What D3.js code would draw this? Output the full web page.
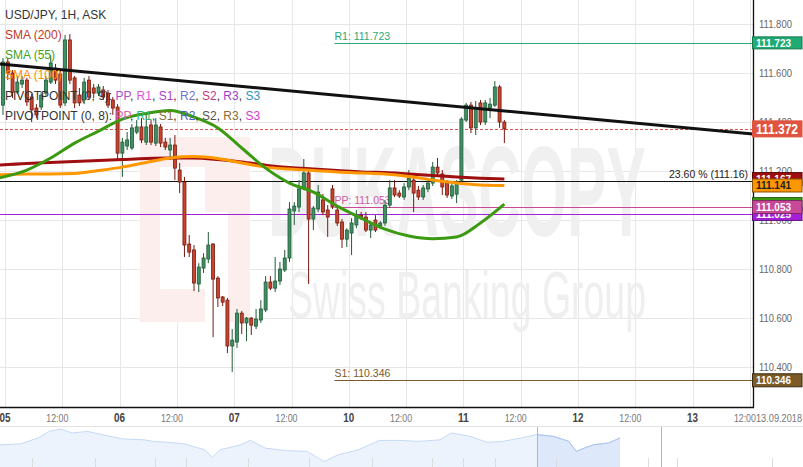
<!DOCTYPE html>
<html><head><meta charset="utf-8">
<script src="https://cdn.jsdelivr.net/npm/d3@7"></script>
<style>body{margin:0;background:#fff;}svg{display:block;font-family:"Liberation Sans",Arial,sans-serif;}</style>
</head><body><svg id="c" width="803" height="467"></svg>
<script>
// ---------- DATA ----------
// hourly candles [open, high, low, close], index 0 = 05 Sep 00:00 (weekend skipped)
const ohlc = [
[111.469,111.661,111.429,111.645],[111.645,111.661,111.571,111.600],[111.600,111.612,111.498,111.522],
[111.522,111.588,111.514,111.563],[111.555,111.588,111.539,111.571],[111.571,111.580,111.465,111.482],
[111.502,111.514,111.400,111.449],[111.457,111.473,111.416,111.429],[111.461,111.522,111.449,111.510],
[111.518,111.588,111.506,111.571],[111.563,111.673,111.555,111.641],[111.620,111.637,111.555,111.571],
[111.596,111.612,111.457,111.469],[111.478,111.755,111.465,111.735],[111.735,111.759,111.555,111.571],
[111.580,111.588,111.457,111.478],[111.510,111.539,111.465,111.478],[111.490,111.580,111.473,111.563],
[111.571,111.588,111.490,111.502],[111.539,111.555,111.498,111.518],[111.518,111.555,111.506,111.543],
[111.531,111.547,111.490,111.502],[111.518,111.531,111.457,111.469],[111.490,111.502,111.429,111.457],
[111.461,111.473,111.245,111.273],[111.273,111.335,111.176,111.318],[111.302,111.359,111.286,111.327],
[111.294,111.392,111.286,111.376],[111.359,111.408,111.351,111.380],[111.380,111.416,111.314,111.327],
[111.318,111.429,111.306,111.380],[111.388,111.408,111.306,111.318],[111.314,111.416,111.302,111.388],
[111.380,111.392,111.298,111.314],[111.318,111.335,111.286,111.298],[111.286,111.335,111.245,111.306],
[111.306,111.347,111.163,111.212],[111.204,111.233,111.110,111.155],[111.155,111.176,110.849,110.898],
[110.902,110.939,110.849,110.869],[110.878,110.898,110.710,110.743],[110.739,110.824,110.706,110.808],
[110.804,110.865,110.784,110.845],[110.841,110.951,110.824,110.898],[110.902,110.906,110.522,110.759],
[110.763,110.771,110.645,110.682],[110.686,110.690,110.649,110.665],[110.673,110.682,110.457,110.486],
[110.486,110.555,110.380,110.510],[110.502,110.637,110.478,110.620],[110.620,110.629,110.535,110.580],
[110.580,110.604,110.506,110.600],[110.600,110.604,110.531,110.571],[110.567,110.637,110.555,110.596],
[110.592,110.673,110.580,110.637],[110.633,110.771,110.624,110.747],[110.747,110.771,110.714,110.722],
[110.722,110.849,110.706,110.751],[110.751,110.829,110.735,110.800],[110.796,110.878,110.788,110.845],
[110.845,111.073,110.829,111.045],[111.037,111.073,110.980,111.057],[111.053,111.163,111.033,111.127],
[111.131,111.249,111.122,111.192],[111.192,111.204,110.739,111.004],[111.004,111.057,110.959,111.049],
[111.045,111.143,111.033,111.114],[111.082,111.106,111.020,111.033],[111.041,111.061,110.931,111.012],
[111.127,111.143,111.045,111.053],[111.041,111.061,110.976,110.988],[110.992,111.004,110.886,110.922],
[110.922,110.967,110.890,110.959],[110.947,111.008,110.857,110.988],[110.980,111.041,110.967,111.020],
[111.020,111.033,111.000,111.008],[111.012,111.033,110.951,110.959],[110.959,110.992,110.927,110.980],
[111.000,111.020,110.951,110.959],[110.976,110.996,110.963,110.988],[110.988,111.082,110.976,111.061],
[111.061,111.163,111.049,111.131],[111.131,111.163,111.094,111.102],[111.110,111.122,111.090,111.098],
[111.094,111.151,111.082,111.135],[111.135,111.204,111.122,111.171],[111.163,111.180,111.033,111.110],
[111.122,111.139,111.082,111.094],[111.094,111.143,111.082,111.131],[111.127,111.171,111.114,111.151],
[111.151,111.237,111.139,111.216],[111.216,111.253,111.180,111.192],[111.188,111.204,111.102,111.135],
[111.151,111.163,111.090,111.102],[111.098,111.151,111.086,111.139],[111.106,111.163,111.069,111.155],
[111.163,111.420,111.155,111.412],[111.408,111.478,111.400,111.469],[111.469,111.482,111.355,111.376],
[111.376,111.486,111.347,111.457],[111.478,111.490,111.388,111.400],[111.400,111.490,111.388,111.478],
[111.457,111.498,111.416,111.473],[111.469,111.567,111.461,111.543],[111.543,111.551,111.376,111.400],
[111.400,111.408,111.314,111.372]
];
// moving averages read at candle indices
const smaIdx = [-1,5,10,15,20,25,30,35,40,45,50,55,60,65,70,75,80,85,90,95,100,105];
const sma200 = [111.224,111.231,111.235,111.239,111.243,111.247,111.251,111.253,111.253,111.247,111.237,111.224,111.214,111.208,111.202,111.196,111.194,111.188,111.182,111.176,111.171,111.167];
const sma100 = [111.184,111.188,111.188,111.190,111.202,111.216,111.235,111.253,111.259,111.251,111.233,111.216,111.208,111.202,111.196,111.192,111.188,111.178,111.163,111.151,111.143,111.141];
const sma55  = [111.171,111.204,111.253,111.314,111.363,111.412,111.435,111.447,111.420,111.376,111.294,111.212,111.151,111.114,111.057,111.008,110.963,110.935,110.924,110.931,110.988,111.065];
// trend line [hour, price]
const trendLine = [[-1.05,111.637],[156.65,111.351]];
// levels
const pivotStartHour = 69;
const R1 = 111.723, S1 = 110.346, PP8 = 111.053, PP9 = 111.025, fib236 = 111.16, lastPrice = 111.372;
// axis ticks
const yTicks = [110.4,110.6,110.8,111.0,111.2,111.4,111.6,111.8];
const yTickLabels = ["110.400","110.600","110.800","111.000","111.200","111.400","111.600","111.800"];
const dayLabels = ["05","06","07","10","11","12","13"];
const halfDayLabel = "12:00";
const dateLabel = "13.09.2018";
// navigator (days relative to last candle, price)
const navDays = [-32.7,-31.6,-30.7,-30.1,-29.5,-28.9,-28.1,-27.3,-26.2,-25.1,-24.6,-23.8,-23.0,-21.9,-21.5,-21.1,-20.0,-19.5,-18.7,-17.6,-16.5,-15.6,-14.9,-13.8,-12.7,-11.6,-10.6,-9.5,-8.9,-7.9,-7.0,-6.2,-5.2,-4.4,-3.5,-2.7,-2.3,-1.9,-1.4,-0.6,0];
const navValues = [111.01,111.06,111.35,111.68,111.8,111.6,111.68,111.52,111.3,111.26,111.18,111.13,111.06,110.76,110.39,110.76,111.01,111.23,110.84,110.72,110.68,110.17,110.5,110.76,111.23,111.23,111.18,111.26,111.6,111.43,111.13,111.18,111.35,111.52,111.43,111.18,110.68,110.84,111.01,111.1,111.35];
const navTickDays = [-31.0,-27.7,-24.5,-22.9,-19.6,-16.4,-13.1,-9.9,-8.3,-6.6,-3.4,1.5,3.0,8.0];

// ---------- CHART ----------
const svg = d3.select('#c');
const plotW = 753, plotH = 407;
const x = d3.scaleLinear().domain([0,156]).range([5,749.9]);
const y = d3.scaleLinear().domain([110.237,111.898]).range([407,0]);
const cx = i => x(i - 0.42);

svg.append('defs').append('clipPath').attr('id','clip').append('rect').attr('width',plotW).attr('height',plotH);
const plot = svg.append('g').attr('clip-path','url(#clip)');

// grid
plot.append('g').selectAll('line').data(yTicks).join('line')
  .attr('x1',0).attr('x2',plotW).attr('y1',d=>Math.round(y(d))+0.5).attr('y2',d=>Math.round(y(d))+0.5)
  .attr('stroke','#e7e7e7');
const xHours = d3.range(0,157,12);
plot.append('g').selectAll('line').data(xHours).join('line')
  .attr('x1',d=>Math.round(x(d))+0.5).attr('x2',d=>Math.round(x(d))+0.5).attr('y1',0).attr('y2',plotH)
  .attr('stroke','#e7e7e7');

// watermark
const wm = plot.append('g');
wm.append('rect').attr('x',140).attr('y',137).attr('width',110).attr('height',185).attr('fill','#fdeeee');
wm.append('rect').attr('x',160).attr('y',167).attr('width',45).attr('height',122).attr('fill','#fff');
wm.append('rect').attr('x',205).attr('y',212).attr('width',23).attr('height',110).attr('fill','#fff');
wm.append('text').attr('x',268).attr('y',236).attr('font-size',128).attr('font-weight','bold')
  .attr('fill','#f0f0f0').attr('textLength',378).attr('lengthAdjust','spacingAndGlyphs').text('DUKASCOPY');
wm.append('text').attr('x',288).attr('y',318).attr('font-size',66)
  .attr('fill','#efefef').attr('textLength',358).attr('lengthAdjust','spacingAndGlyphs').text('Swiss Banking Group');

// level lines
const lv = plot.append('g');
function hline(v, x0, color, dash){
  lv.append('line').attr('x1',x0).attr('x2',plotW).attr('y1',Math.round(y(v))+0.5).attr('y2',Math.round(y(v))+0.5)
    .attr('stroke',color).attr('stroke-width',1).attr('stroke-dasharray',dash||null);
}
const px0 = x(pivotStartHour);
hline(fib236, 0, '#111');
hline(PP9, 0, '#a51fd8');
hline(PP8, px0, '#c8489a');
hline(R1, px0, '#2aa876');
hline(S1, px0, '#7a5a28');
hline(lastPrice, 0, '#d9534f', '3,2');
function lvText(txt, v, color, xx, anchor){
  lv.append('text').attr('x',xx).attr('y',y(v)-3).attr('font-size',10.5).attr('fill',color)
    .attr('text-anchor',anchor||'start').text(txt);
}
lvText('R1: ' + R1.toFixed(3), R1, '#2aa876', px0);
lvText('S1: ' + S1.toFixed(3), S1, '#7a5a28', px0);
lvText('PP: ' + PP8.toFixed(3), PP8, '#d05aa6', px0);
lvText('23.60 % (' + fib236.toFixed(2) + ')', fib236, '#222', 748, 'end');

// candles
const cg = plot.append('g');
const up = d => d[3] >= d[0];
const cand = cg.selectAll('g').data(ohlc).join('g');
cand.append('line').attr('x1',(d,i)=>cx(i)).attr('x2',(d,i)=>cx(i))
  .attr('y1',d=>y(d[1])).attr('y2',d=>y(d[2]))
  .attr('stroke',d=>up(d)?'#1f5a36':'#76190f').attr('stroke-width',1);
cand.append('rect').attr('x',(d,i)=>cx(i)-1.5).attr('width',3)
  .attr('y',d=>y(Math.max(d[0],d[3]))).attr('height',d=>Math.max(1,Math.abs(y(d[0])-y(d[3]))))
  .attr('fill',d=>up(d)?'#3f9163':'#c8442f')
  .attr('stroke',d=>up(d)?'#1f5a36':'#76190f').attr('stroke-width',0.8);

// SMAs
const smaLine = d3.line().x(d=>cx(d[0])).y(d=>y(d[1])).curve(d3.curveMonotoneX);
function drawSma(vals, color){
  plot.append('path').datum(smaIdx.map((k,j)=>[k,vals[j]])).attr('d',smaLine)
    .attr('fill','none').attr('stroke',color).attr('stroke-width',3).attr('stroke-linejoin','round');
}
drawSma(sma200,'#a00f10');
drawSma(sma100,'#ff9800');
drawSma(sma55,'#3b9a12');

// trend line
plot.append('line').attr('x1',x(trendLine[0][0])).attr('y1',y(trendLine[0][1]))
  .attr('x2',x(trendLine[1][0])).attr('y2',y(trendLine[1][1]))
  .attr('stroke','#111').attr('stroke-width',3);

// legend
const lg = svg.append('g').attr('font-size',12);
lg.append('text').attr('x',5).attr('y',19).attr('fill','#333').text('USD/JPY, 1H, ASK');
lg.append('text').attr('x',5).attr('y',39).attr('fill','#c0392b').text('SMA (200)');
lg.append('text').attr('x',5).attr('y',59).attr('fill','#3ea31b').text('SMA (55)');
lg.append('text').attr('x',5).attr('y',79).attr('fill','#ff8c00').text('SMA (100)');
const piv = [
  {y:100, head:'PIVOTPOINT (0, 9): ', cols:['#b04ed2','#e352d6','#b03fc6','#6e73d4','#c13a80','#9a3fc8','#2b93c1']},
  {y:120, head:'PIVOTPOINT (0, 8): ', cols:['#e262b2','#2db37b','#8b6d36','#4b60c2','#555555','#8b6d36','#d540c9']}
];
const pivNames = ['PP','R1','S1','R2','S2','R3','S3'];
piv.forEach(p=>{
  const t = lg.append('text').attr('x',5).attr('y',p.y);
  t.append('tspan').attr('fill','#333').text(p.head);
  pivNames.forEach((n,k)=>{
    t.append('tspan').attr('fill',p.cols[k]).text(n);
    if(k<pivNames.length-1) t.append('tspan').attr('fill','#333').text(', ');
  });
});

// axes lines
svg.append('line').attr('x1',753.5).attr('x2',753.5).attr('y1',0).attr('y2',408).attr('stroke','#111').attr('stroke-width',1.3);
svg.append('line').attr('x1',0).attr('x2',754).attr('y1',407.5).attr('y2',407.5).attr('stroke','#111').attr('stroke-width',1.3);

// y labels
svg.append('g').selectAll('text').data(yTicks).join('text')
  .attr('x',759).attr('y',d=>y(d)).attr('dy','0.36em').attr('font-size',11).attr('fill','#666')
  .attr('textLength',33).attr('lengthAdjust','spacingAndGlyphs').text((d,i)=>yTickLabels[i]);

// x labels
const xl = svg.append('g');
xHours.forEach(h=>{
  if(h%24===0){
    xl.append('text').attr('x',x(h)).attr('y',418).attr('dy','0.36em').attr('text-anchor','middle')
      .attr('font-size',12).attr('fill','#444').attr('font-weight','bold')
      .attr('textLength',11).attr('lengthAdjust','spacingAndGlyphs').text(dayLabels[h/24]);
  } else {
    xl.append('text').attr('x',x(h)-5).attr('y',418).attr('dy','0.36em').attr('text-anchor','middle')
      .attr('font-size',10).attr('fill','#777')
      .attr('textLength',22).attr('lengthAdjust','spacingAndGlyphs').text(halfDayLabel);
  }
});
xl.append('text').attr('x',802).attr('y',418).attr('dy','0.36em').attr('text-anchor','end')
  .attr('font-size',10).attr('fill','#777').attr('textLength',46).attr('lengthAdjust','spacingAndGlyphs').text(dateLabel);

// price boxes on right axis
const bx = svg.append('g');
function box(v, fill, stroke, tcol, h, fs, tl){
  const yy = y(v);
  bx.append('rect').attr('x',752.5).attr('y',yy-h/2).attr('width',49.5).attr('height',h)
    .attr('fill',fill).attr('stroke',stroke).attr('stroke-width',1);
  bx.append('text').attr('x',756).attr('y',yy).attr('dy','0.36em').attr('font-size',fs).attr('font-weight','bold')
    .attr('fill',tcol).attr('textLength',tl).attr('lengthAdjust','spacingAndGlyphs').text(v.toFixed(3));
}
box(R1,'#1fab73','#137a4e','#fff',12,11,35);
box(sma200[sma200.length-1],'#a00f10','#5a0000','#fff',13,11,35);
box(sma100[sma100.length-1],'#ff9800','#8a5200','#222',13,11,35);
box(sma55[sma55.length-1],'#3b9a12','#1e5e08','#fff',13,11,35);
box(PP9,'#a51fd8','#5e0d80','#fff',13,11,35);
box(PP8,'#c8489a','#7a2a5e','#fff',13,11,35);
box(S1,'#7d5b27','#3a2a10','#fff',13,11,35);
box(lastPrice,'#e0533f','#e0533f','#fff',16,14,42);

// navigator
const nav = svg.append('g');
nav.append('line').attr('x1',0).attr('x2',803).attr('y1',426.5).attr('y2',426.5).attr('stroke','#e3e3e3');
const navX = d3.scaleLinear().domain([-32.7,0]).range([0,620]);
const navY = d3.scaleLinear().domain([109.9,111.9]).range([467,427]);
const navPts = navDays.map((d,i)=>[d,navValues[i]]);
const navArea = d3.area().x(d=>navX(d[0])).y0(467).y1(d=>navY(d[1]));
const navLine = d3.line().x(d=>navX(d[0])).y(d=>navY(d[1]));
nav.append('path').datum(navPts).attr('d',navArea).attr('fill','#edf3fd');
const lastH = ohlc.length-1;
const winL = navX(-lastH/24), winR = navX((156.65-lastH)/24);
svg.select('defs').append('clipPath').attr('id','navwin').append('rect').attr('x',winL).attr('y',427).attr('width',winR-winL).attr('height',40);
nav.append('path').datum(navPts).attr('d',navArea).attr('fill','#dde9fb').attr('clip-path','url(#navwin)');
nav.append('path').datum(navPts).attr('d',navLine).attr('fill','none').attr('stroke','#c6d9f6').attr('stroke-width',1);
nav.append('path').datum(navPts).attr('d',navLine).attr('fill','none').attr('stroke','#a9c4ef').attr('stroke-width',1).attr('clip-path','url(#navwin)');
nav.selectAll('line.t').data(navTickDays).join('line').attr('class','t')
  .attr('x1',d=>Math.round(navX(d))+0.5).attr('x2',d=>Math.round(navX(d))+0.5).attr('y1',458).attr('y2',467)
  .attr('stroke','#dcdcdc');
[winL,winR].forEach(v=>nav.append('line').attr('x1',Math.round(v)+0.5).attr('x2',Math.round(v)+0.5)
  .attr('y1',427).attr('y2',467).attr('stroke','#b5b5b5'));
</script>
</body></html>
